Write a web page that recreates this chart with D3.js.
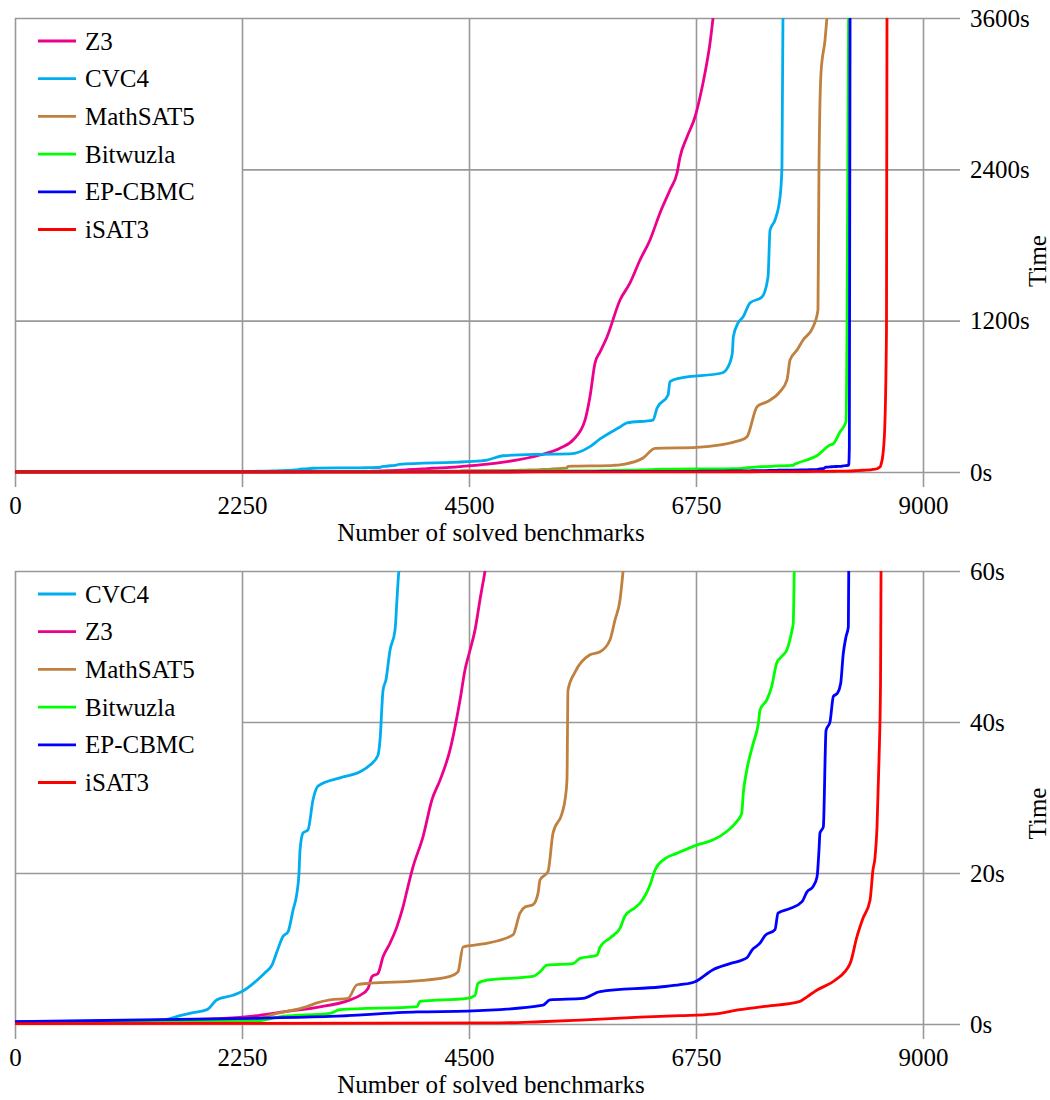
<!DOCTYPE html>
<html>
<head>
<meta charset="utf-8">
<script src="https://cdn.jsdelivr.net/npm/d3@7"></script>
<style>
  body { margin: 0; background: #fff; }
  text { font-family: "Liberation Serif", "DejaVu Serif", serif; }
</style>
</head>
<body>
<div id="chart"></div>
<script>
// number of solved benchmarks vs. cumulative time in seconds
const z3Times = [[0,0.25],[1800,0.6],[2329,1.0],[2656,1.6],[2993,2.2],[3321,3.2],[3420,3.8],[3499,4.7],[3539,6.3],[3598,6.7],[3648,8.9],[3717,10.7],[3786,12.9],[3846,15.5],[3895,18.2],[3945,20.8],[4044,24.8],[4133,29.7],[4213,32.3],[4312,36.3],[4411,42.9],[4460,46.9],[4510,49.5],[4560,52.2],[4609,56.2],[4659,60],[4877,82],[5204,135],[5402,188],[5531,254],[5650,412],[5699,597],[5749,864],[5799,952],[5868,1071],[5997,1364],[6096,1499],[6195,1681],[6294,1840],[6393,2054],[6492,2236],[6562,2371],[6592,2498],[6661,2657],[6740,2815],[6790,2974],[6839,3164],[6889,3402],[6919,3600]];
const cvc4Times = [[0,0.3],[1437,0.5],[1636,1.1],[1764,1.5],[1903,1.9],[2002,3.2],[2161,3.8],[2250,4.3],[2399,5.8],[2478,6.8],[2547,7.8],[2597,9.6],[2656,11.6],[2706,12.2],[2756,15.1],[2795,17.4],[2815,20.0],[2825,23.0],[2855,25.3],[2904,25.7],[2954,29.7],[3003,31.5],[3221,32.6],[3420,33.4],[3519,34.3],[3598,35.6],[3618,37.6],[3648,44.2],[3677,45.6],[3717,49.5],[3767,52.2],[3786,56.2],[3806,60],[4480,82],[4678,95],[4837,129],[5204,140],[5501,143],[5699,201],[5799,262],[5997,357],[6066,389],[6324,412],[6364,508],[6473,611],[6492,716],[6592,745],[7008,785],[7067,833],[7110,944],[7120,1071],[7167,1182],[7216,1229],[7285,1340],[7404,1388],[7464,1546],[7484,1919],[7533,1998],[7583,2181],[7602,2419],[7612,3600]];
const mathsatTimes = [[0,0.2],[2000,0.4],[2329,0.5],[2597,1.4],[2894,2.3],[2993,2.8],[3122,3.2],[3301,3.4],[3390,5.2],[3519,5.4],[3985,5.7],[4312,6.3],[4391,6.9],[4441,10.2],[4639,10.6],[4936,11.8],[5005,14.7],[5055,15.5],[5134,15.8],[5184,17.3],[5204,19.1],[5283,20.2],[5333,25.3],[5422,27.9],[5452,29.7],[5471,32.3],[5481,44.2],[5551,46.6],[5699,48.9],[5799,49.3],[5898,50.9],[5947,53.5],[5997,56.2],[6027,60],[6225,111],[6344,188],[6760,196],[7186,251],[7256,280],[7355,518],[7454,557],[7583,637],[7652,730],[7682,888],[7751,967],[7811,1047],[7910,1150],[7959,1285],[7969,2419],[7989,3164],[8029,3426],[8048,3600]];
const bitwuzlaTimes = [[0,0.2],[2329,0.3],[2656,1.0],[3122,1.4],[3221,1.9],[3985,2.3],[4014,3.0],[4480,3.4],[4560,3.8],[4589,5.4],[4678,5.8],[5134,6.3],[5204,6.9],[5273,7.8],[5531,8.0],[5600,8.7],[5769,9.1],[5799,10.2],[5898,11.4],[5997,12.7],[6046,14.3],[6145,15.4],[6195,16.0],[6294,18.4],[6344,20.4],[6443,21.9],[6559,22.6],[6757,23.7],[6922,24.4],[7054,25.5],[7153,26.8],[7203,27.9],[7219,30.6],[7253,33.6],[7318,37.2],[7368,39.8],[7385,41.6],[7451,42.9],[7500,44.7],[7550,47.8],[7600,48.7],[7649,49.5],[7699,52.0],[7714,53.1],[7724,60],[7751,69],[7959,135],[8078,214],[8108,222],[8177,317],[8237,399],[8247,1126],[8262,3600]];
const epcbmcTimes = [[0,0.3],[2329,0.75],[3122,1.0],[3985,1.6],[4480,1.7],[5234,2.5],[5303,3.2],[5630,3.4],[5799,4.3],[6393,4.9],[6592,5.2],[6740,5.6],[6919,7.2],[7087,8.0],[7256,8.8],[7305,9.8],[7384,10.7],[7434,11.7],[7533,12.5],[7563,14.7],[7682,15.3],[7801,16.2],[7850,17.5],[7910,18.2],[7950,19.5],[7969,23.0],[7979,25.3],[8012,26.1],[8039,38.9],[8078,40.0],[8112,43.4],[8151,43.8],[8184,45.1],[8210,49.1],[8237,51.3],[8260,52.6],[8264,60],[8270,200],[8277,3600]];
const isat3Times = [[0,0.05],[4807,0.15],[5204,0.3],[5600,0.5],[6195,0.9],[6592,1.1],[6919,1.3],[7186,1.9],[7414,2.3],[7781,3.0],[7850,3.6],[7950,4.5],[8128,5.8],[8277,8.0],[8346,11.6],[8405,14.0],[8475,16.4],[8504,20.4],[8524,22],[8544,26],[8564,35],[8579,45],[8584,60],[8600,121],[8620,333],[8638,1126],[8643,3600]];

const xTicks = [0, 2250, 4500, 6750, 9000];
const topTicks = [0, 1200, 2400, 3600];
const bottomTicks = [0, 20, 40, 60];
const topOrder = ["Z3", "CVC4", "MathSAT5", "Bitwuzla", "EP-CBMC", "iSAT3"];
const bottomOrder = ["CVC4", "Z3", "MathSAT5", "Bitwuzla", "EP-CBMC", "iSAT3"];

const seriesByName = {
  "Z3": z3Times, "CVC4": cvc4Times, "MathSAT5": mathsatTimes,
  "Bitwuzla": bitwuzlaTimes, "EP-CBMC": epcbmcTimes, "iSAT3": isat3Times
};
const color = d3.scaleOrdinal()
  .domain(["Z3", "CVC4", "MathSAT5", "Bitwuzla", "EP-CBMC", "iSAT3"])
  .range(["#ec008c", "#00aeef", "#bf8040", "#00ff00", "#0000ff", "#ff0000"]);

const svg = d3.select("#chart").append("svg")
  .attr("width", 1050)
  .attr("height", 1100);

const left = 15, right = 960;
const x = d3.scaleLinear().domain([0, 9000]).range([left, 923]);

function drawPanel(id, top, bottom, yMax, yTicks, order) {
  const y = d3.scaleLinear().domain([0, yMax]).range([bottom, top]);
  const g = svg.append("g");
  const legendRight = x(2250);
  const legendBottom = top + 237;

  // grid via axes
  const xAxis = d3.axisBottom(x)
    .tickValues(xTicks)
    .tickSize(-(bottom + 15 - top))
    .tickPadding(9)
    .tickFormat(d3.format("d"));
  g.append("g")
    .attr("transform", "translate(0," + (bottom + 15) + ")")
    .call(xAxis)
    .call(a => a.select(".domain").remove())
    .call(a => a.selectAll(".tick line").attr("stroke", "#999").attr("stroke-width", 1.6))
    .call(a => a.selectAll(".tick text").attr("fill", "#000").style("font-size", "25px").style("font-family", "Liberation Serif"));

  const yAxis = d3.axisRight(y)
    .tickValues(yTicks)
    .tickSize(-(right - left))
    .tickPadding(10)
    .tickFormat(d => d + "s");
  g.append("g")
    .attr("transform", "translate(" + right + ",0)")
    .call(yAxis)
    .call(a => a.select(".domain").remove())
    .call(a => a.selectAll(".tick line")
      .attr("stroke", "#999").attr("stroke-width", 1.6)
      // grid lines behind the legend box only start at its right edge
      .attr("x2", d => (y(d) > top + 2 && y(d) < legendBottom) ? -(right - legendRight) : -(right - left)))
    .call(a => a.selectAll(".tick text").attr("fill", "#000").style("font-size", "25px").style("font-family", "Liberation Serif"));

  g.append("clipPath").attr("id", id)
    .append("rect")
    .attr("x", 0).attr("y", top)
    .attr("width", right).attr("height", bottom - top + 10);

  const line = d3.line()
    .x(d => x(d[0]))
    .y(d => y(d[1]))
    .curve(d3.curveMonotoneX);

  g.append("g")
    .attr("clip-path", "url(#" + id + ")")
    .selectAll("path")
    .data(order)
    .enter().append("path")
    .attr("d", d => line(seriesByName[d]))
    .attr("fill", "none")
    .attr("stroke", d => color(d))
    .attr("stroke-width", 2.8)
    .attr("stroke-linejoin", "round");

  // legend
  const rowY = d3.scaleLinear().domain([0, 5]).range([top + 23, top + 211.5]);
  const legend = g.append("g")
    .selectAll("g")
    .data(order)
    .enter().append("g")
    .attr("transform", (d, i) => "translate(0," + rowY(i) + ")");
  legend.append("line")
    .attr("x1", 38).attr("x2", 76)
    .attr("stroke", d => color(d))
    .attr("stroke-width", 2.8);
  legend.append("text")
    .attr("x", 85)
    .attr("y", 8.5)
    .style("font-size", "25px")
    .text(d => d);

  g.append("text")
    .attr("x", 491)
    .attr("y", bottom + 69)
    .attr("text-anchor", "middle")
    .style("font-size", "25px")
    .text("Number of solved benchmarks");

  g.append("text")
    .attr("transform", "translate(1046," + ((top + bottom) / 2 + 16) + ") rotate(-90)")
    .attr("text-anchor", "middle")
    .style("font-size", "25px")
    .text("Time");
}

drawPanel("clipTop", 18, 472, 3600, topTicks, topOrder);
drawPanel("clipBottom", 571, 1024, 60, bottomTicks, bottomOrder);
</script>
</body>
</html>
